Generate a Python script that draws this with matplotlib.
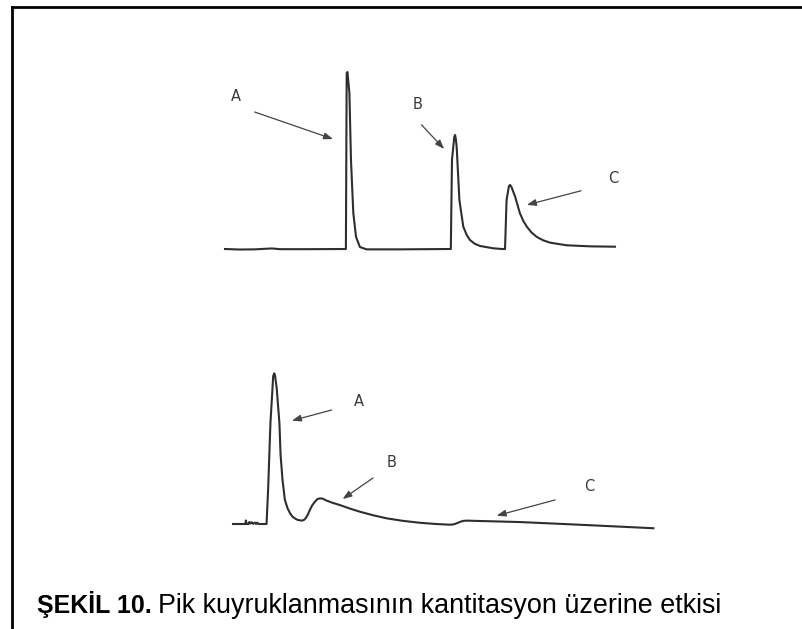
import matplotlib
matplotlib.use("Agg")
import matplotlib.pyplot as plt
from matplotlib.lines import Line2D

plt.rcParams["font.family"] = ["Liberation Sans", "DejaVu Sans"]

# upper chromatogram: well separated peaks (time in min, signal in % of peak A)
t_top = [0.00, 0.38, 0.77, 1.10, 1.21, 1.41, 2.18, 3.10, 3.12, 3.14, 3.19, 3.23,
         3.29, 3.36, 3.46, 3.63, 4.49, 5.79, 5.82, 5.88, 5.90, 5.92, 5.94, 6.01,
         6.11, 6.20, 6.28, 6.40, 6.54, 6.88, 7.10, 7.18, 7.22, 7.28, 7.31, 7.35,
         7.44, 7.56, 7.65, 7.74, 7.86, 7.99, 8.15, 8.33, 8.76, 9.36, 10.00]
s_top = [0.0, -0.3, -0.2, 0.2, 0.3, -0.1, -0.1, 0.0, 99.4, 100.0, 88.1, 50.3,
         20.3, 6.8, 1.1, -0.2, -0.2, 0.0, 50.3, 63.5, 64.4, 62.0, 57.8, 27.7,
         12.6, 7.8, 5.1, 3.0, 1.7, 0.4, 0.0, 0.0, 27.7, 35.5, 36.2, 34.8,
         29.5, 20.3, 15.8, 12.6, 9.3, 6.9, 5.0, 3.6, 2.1, 1.5, 1.3]

# lower chromatogram: tailing peaks
t_bot = [0.00, 0.28, 0.32, 0.33, 0.35, 0.40, 0.42, 0.45, 0.48, 0.51, 0.56, 0.59,
         0.62, 0.65, 0.86, 0.90, 0.96, 1.01, 1.03, 1.06, 1.08, 1.12, 1.19, 1.22,
         1.27, 1.33, 1.40, 1.46, 1.52, 1.59, 1.66, 1.76, 1.82, 1.87, 1.92, 1.97,
         2.03, 2.10, 2.16, 2.23, 2.30, 2.40, 2.55, 2.74, 3.00, 3.26, 3.60, 3.94,
         4.35, 4.79, 5.20, 5.56, 5.63, 5.69, 5.78, 5.86, 5.92, 5.99, 7.36, 9.07,
         10.78]
s_bot = [0.0, 0.0, 0.0, 2.0, 0.0, 0.0, 1.1, 0.3, 1.0, 0.1, 0.8, 0.0,
         0.8, 0.0, 0.0, 19.2, 57.1, 75.7, 83.6, 85.1, 83.6, 76.8, 57.1, 39.0,
         24.9, 13.6, 8.8, 6.2, 4.3, 3.1, 2.3, 1.9, 2.3, 3.4, 5.4, 7.9,
         10.5, 12.6, 14.0, 14.5, 14.3, 13.2, 12.0, 10.7, 8.7, 6.9, 4.9, 3.2,
         1.8, 0.7, 0.0, -0.4, -0.3, 0.0, 0.8, 1.5, 1.8, 1.9, 1.1, -0.6,
         -2.4]

# peak labels: (name, label pos, arrow tail, arrow tip)
labels_top = [("A", (0.28, 86.4), (0.76, 77.4), (2.77, 62.1)),
              ("B", (4.95, 81.4), (5.04, 70.1), (5.62, 56.5)),
              ("C", (9.95, 40.1), (9.13, 32.9), (7.74, 24.9))]
labels_bot = [("A", (3.23, 69.1), (2.53, 64.4), (1.51, 58.4)),
              ("B", (4.07, 34.6), (3.59, 26.0), (2.81, 14.1)),
              ("C", (9.13, 21.1), (8.26, 13.6), (6.76, 4.7))]

caption_bold = "ŞEKİL 10."
caption_rest = "Pik kuyruklanmasının kantitasyon üzerine etkisi"

W, H = 802, 629
PX_MIN = 39.0    # pixels per minute
PX_UNIT = 1.77   # pixels per signal unit

fig = plt.figure(figsize=(W / 100, H / 100), dpi=100)
fig.patch.set_facecolor("white")


def trace_axes(x0, y0, tlim, slim):
    left = (x0 + tlim[0] * PX_MIN) / W
    width = (tlim[1] - tlim[0]) * PX_MIN / W
    bottom = (H - y0 + slim[0] * PX_UNIT) / H
    height = (slim[1] - slim[0]) * PX_UNIT / H
    ax = fig.add_axes([left, bottom, width, height])
    ax.set_xlim(tlim)
    ax.set_ylim(slim)
    ax.axis("off")
    return ax


def draw(ax, t, s, labels):
    ax.plot(t, s, color="#2e2e2e", lw=1.5, solid_joinstyle="round")
    for name, pos, tail, tip in labels:
        ax.text(pos[0], pos[1], name, fontsize=10.5, color="#3a3a3a",
                family="DejaVu Sans", ha="center", va="center")
        ax.annotate("", xy=tip, xytext=tail,
                    arrowprops=dict(arrowstyle="-|>,head_length=0.55,head_width=0.2",
                                    color="#444444", lw=0.9, shrinkA=0, shrinkB=0))


ax1 = trace_axes(225, 249, (-1, 11), (-5, 105))
draw(ax1, t_top, s_top, labels_top)

ax2 = trace_axes(233, 524, (-1, 11.5), (-5, 95))
draw(ax2, t_bot, s_bot, labels_bot)

# frame: top and left edges only
fig.add_artist(Line2D([12 / W, 12 / W], [0, (H - 7) / H], color="black", lw=2.0,
                      transform=fig.transFigure, solid_capstyle="projecting"))
fig.add_artist(Line2D([12 / W, 1], [(H - 7) / H, (H - 7) / H], color="black", lw=2.0,
                      transform=fig.transFigure, solid_capstyle="projecting"))

fig.text(37 / W, (H - 613) / H, caption_bold, fontsize=18, fontweight="bold",
         ha="left", va="baseline")
fig.text(158 / W, (H - 613) / H, caption_rest, fontsize=19.4,
         ha="left", va="baseline")

fig.savefig("out.png", dpi=100, facecolor="white")
